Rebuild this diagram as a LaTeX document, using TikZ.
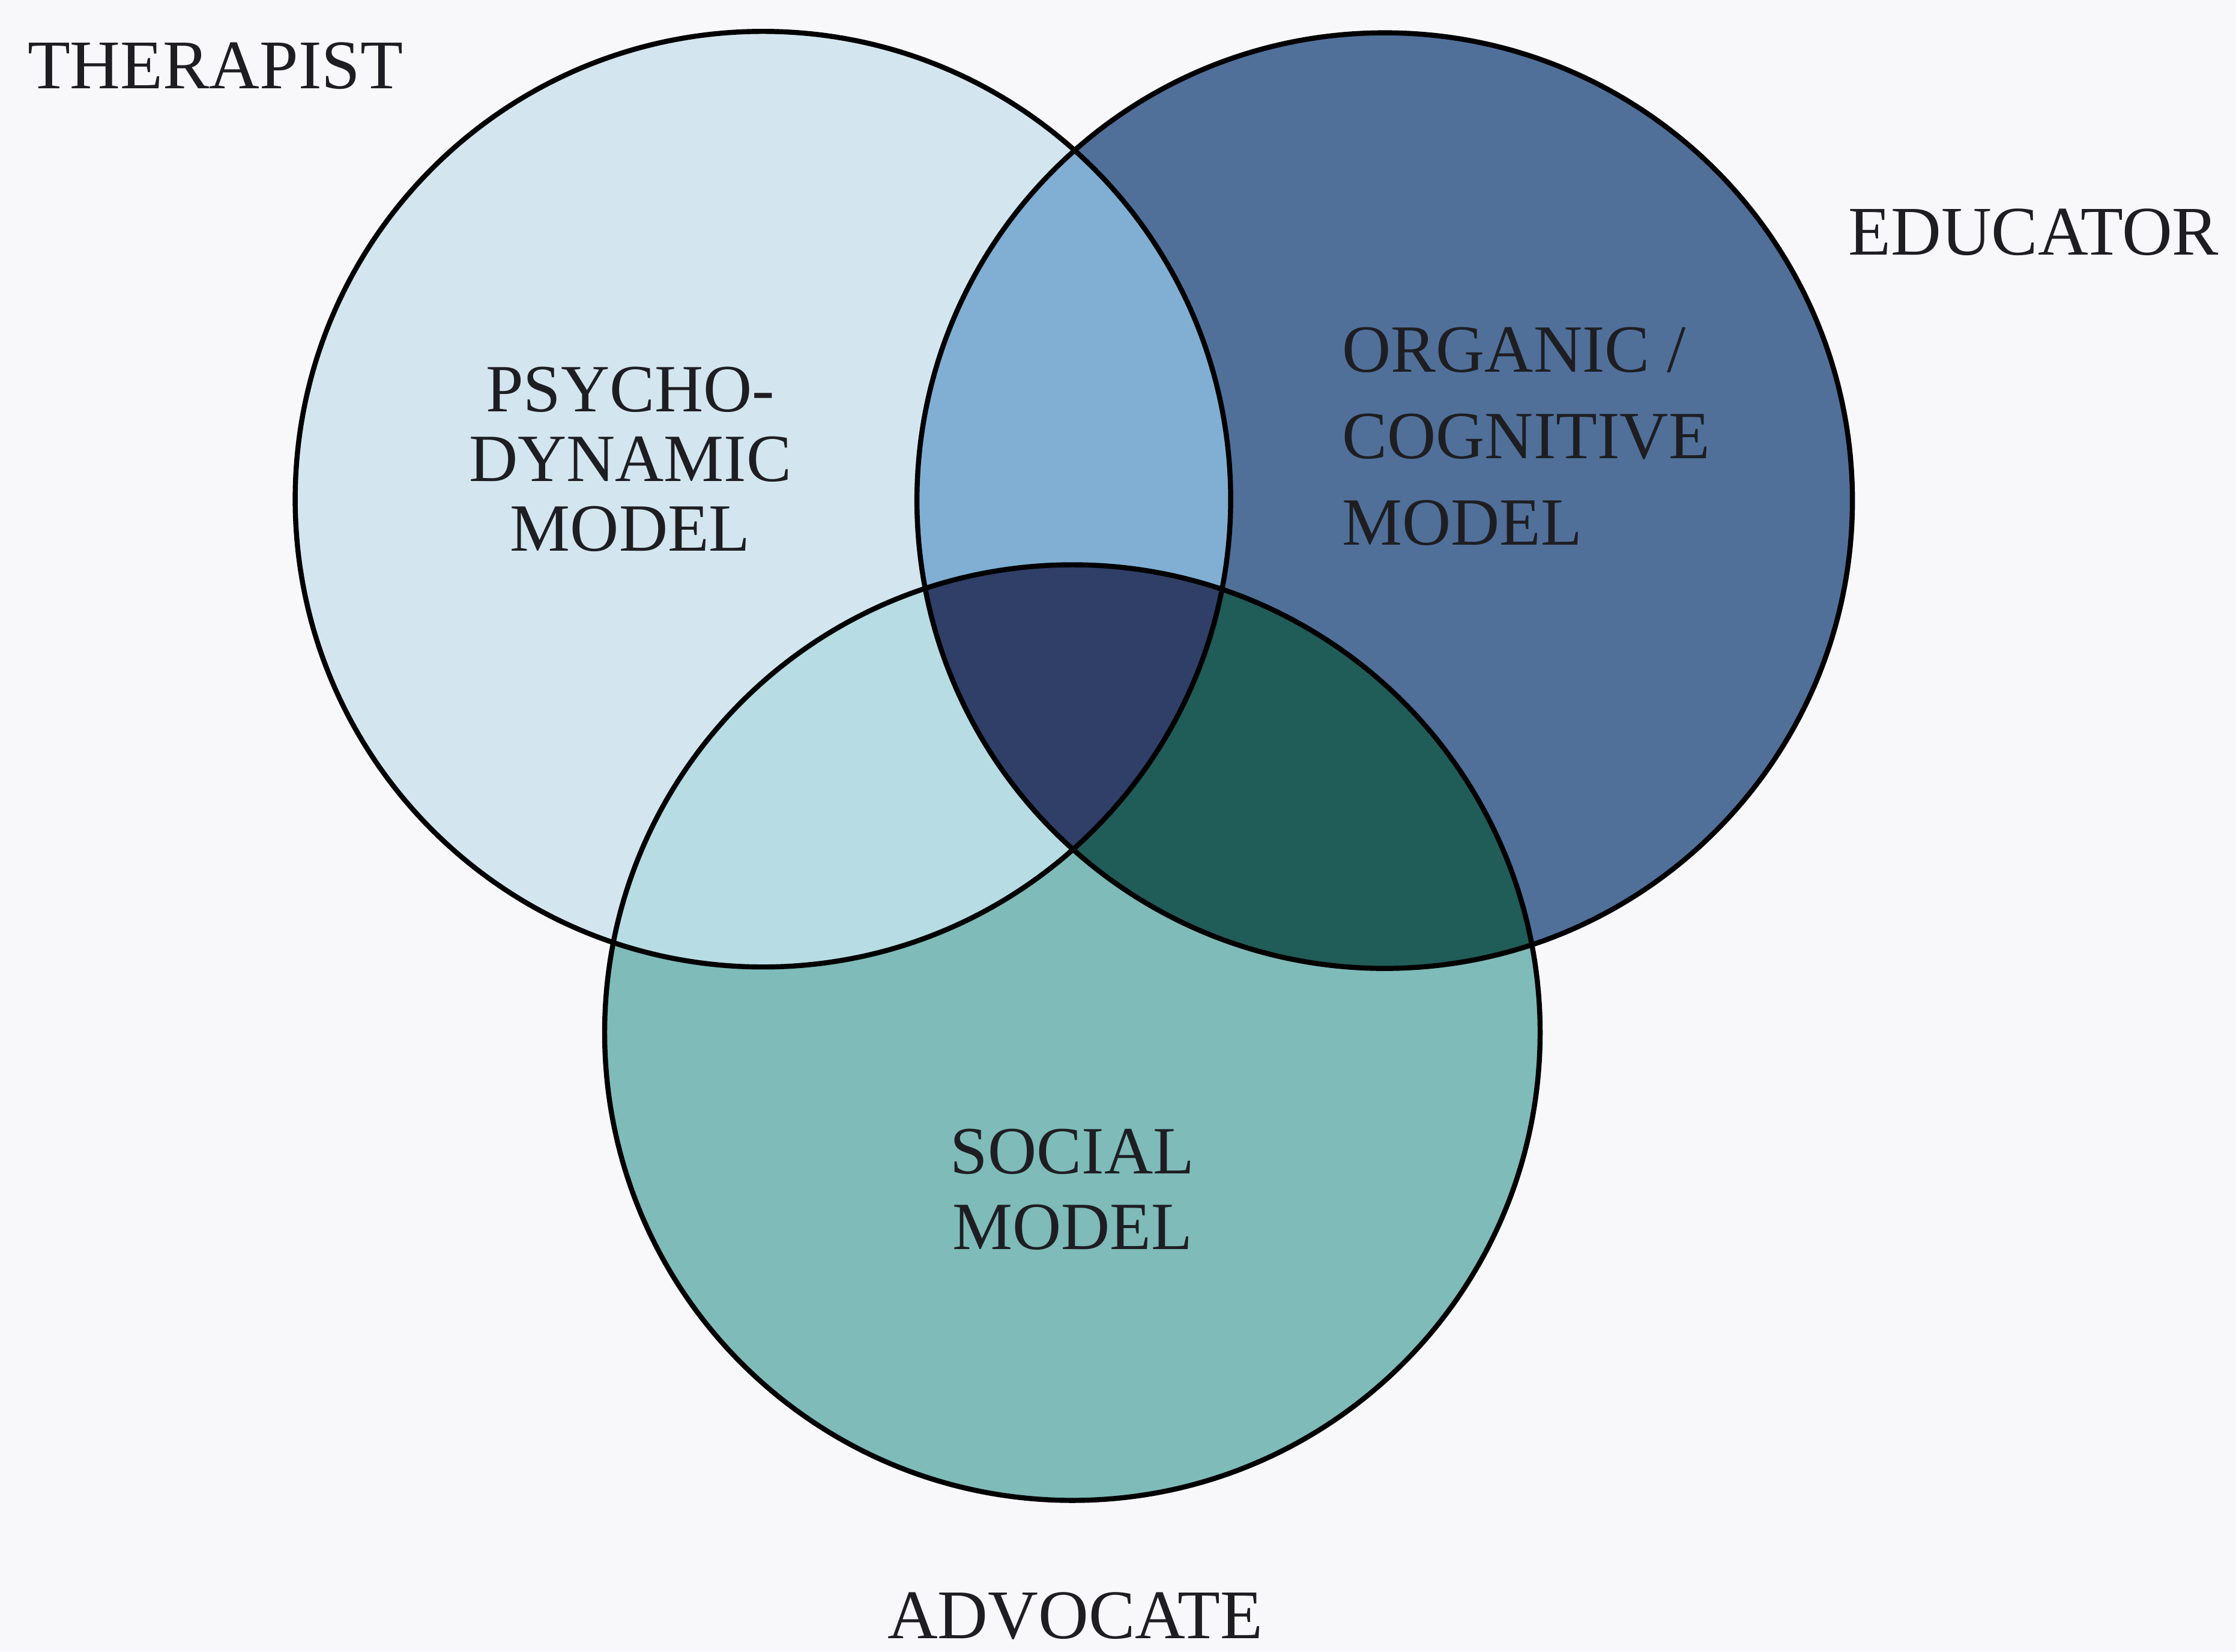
\documentclass[tikz,border=0pt]{standalone}
\usepackage{fontspec}
\setmainfont{Liberation Serif}
\definecolor{paper}{HTML}{F8F8FB}
\definecolor{psycho}{HTML}{D3E6EF}
\definecolor{organic}{HTML}{50709A}
\definecolor{social}{HTML}{7EBBB9}
\definecolor{psyorg}{HTML}{80AFD3}
\definecolor{psysoc}{HTML}{B7DCE3}
\definecolor{orgsoc}{HTML}{205C58}
\definecolor{allthree}{HTML}{2F3F68}
\definecolor{ink}{HTML}{1E1E22}
\tikzset{
  rim/.style={draw=black, line width=2.4pt},
  role/.style={text=ink, font=\fontsize{33}{36}\selectfont},
  model/.style={text=ink, align=center, font=\fontsize{32}{#1}\selectfont},
}
\begin{document}
\begin{tikzpicture}  % ------ Trois modeles, trois roles --------------
      [x=0.02375cm, y=-0.02375cm]

    \fill[paper] (0,0) rectangle (1568,1158);
    \useasboundingbox (0,0) rectangle (1568,1158);

    \coordinate (P) at (535,350);    % psycho-dynamique
    \coordinate (O) at (971,351);    % organique
    \coordinate (S) at (752,724);    % social
    \def\R{328}

    \fill[psycho]  (P) circle (\R);
    \fill[organic] (O) circle (\R);
    \fill[social]  (S) circle (\R);
    \begin{scope}
      \clip (P) circle (\R);
      \fill[psyorg] (O) circle (\R);
      \fill[psysoc] (S) circle (\R);
      \clip (O) circle (\R);
      \fill[allthree] (S) circle (\R);
    \end{scope}
    \begin{scope}[even odd rule]
      \clip (O) circle (\R);
      \clip (S) circle (\R);
      \fill[orgsoc] (P) circle (\R) (-100,-100) rectangle (1700,1300);
    \end{scope}
    \draw[rim] (P) circle (\R);  \draw[rim] (O) circle (\R);  \draw[rim] (S) circle (\R);

    \node[model=33]        (psy) at (442,322) {PSYCHO-\\DYNAMIC\\MODEL};
    \node[model=41, align=left, anchor=west] (org) at (936,306) {ORGANIC /\\COGNITIVE\\MODEL};
    \node[model=36]        (soc) at (752,834) {SOCIAL\\MODEL};

    \node[role] (ther) at (151,46)   {THERAPIST};
    \node[role] (edu)  at (1426,163) {EDUCATOR};
    \node[role, anchor=base, inner sep=0pt] (adv) at (754,1149) {ADVOCATE};
\end{tikzpicture}
\end{document}
